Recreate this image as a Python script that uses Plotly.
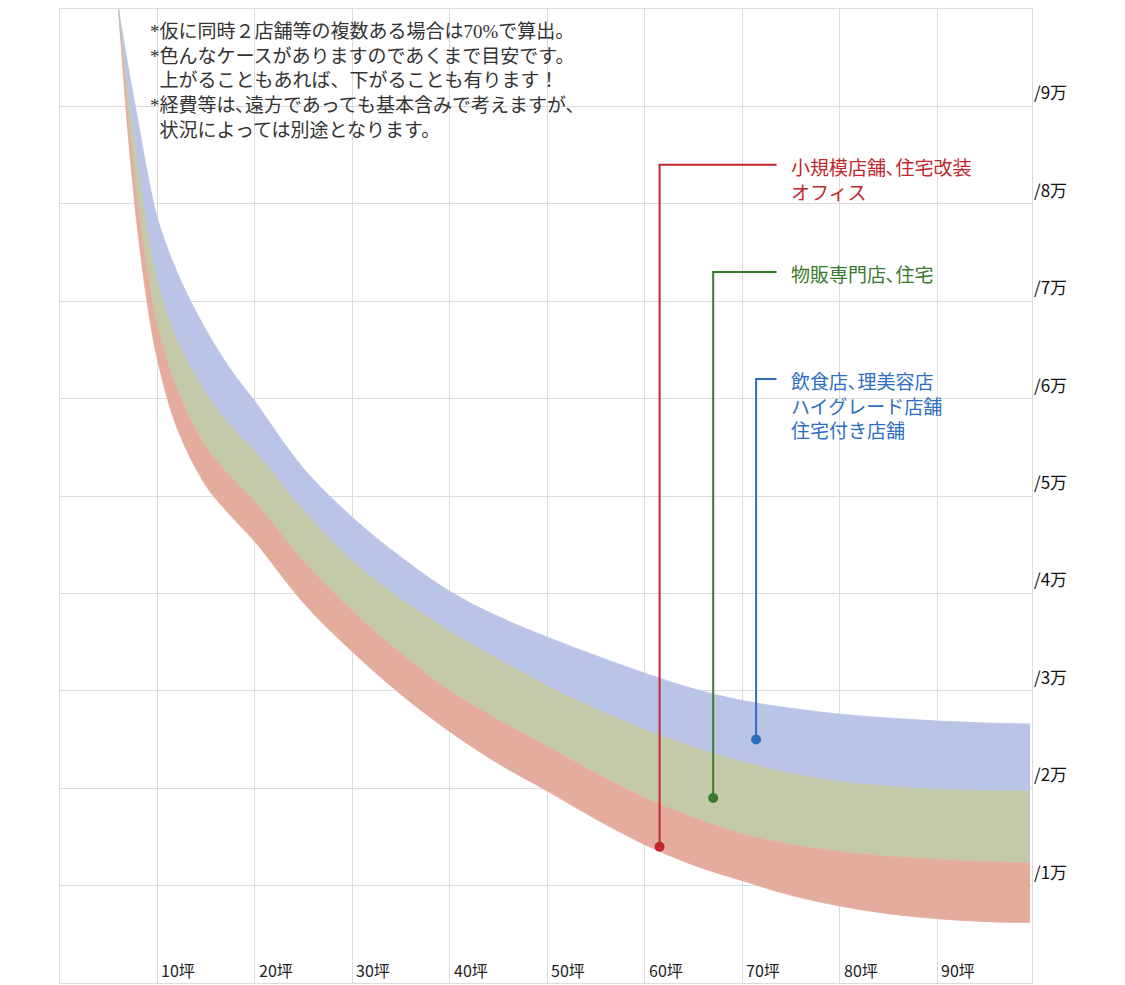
import plotly.graph_objects as go

# 坪 (x) and 万 (y)
tsubo = [6, 7, 8, 9, 10, 12, 15, 17.5, 20, 25, 30, 35, 40, 45, 50, 55, 60, 65, 70, 75, 80, 85, 90, 95, 99.5]
blue_top = [10.0, 9.4, 8.85, 8.3, 7.85, 7.3, 6.7, 6.3, 5.97, 5.28, 4.78, 4.37, 4.02, 3.76, 3.55,
            3.36, 3.18, 3.02, 2.9, 2.82, 2.76, 2.72, 2.69, 2.67, 2.66]
green_top = [10.0, 9.1, 8.4, 7.7, 7.2, 6.6, 6.05, 5.72, 5.46, 4.85, 4.33, 3.94, 3.61, 3.32, 3.05,
             2.81, 2.6, 2.42, 2.27, 2.15, 2.07, 2.02, 1.99, 1.975, 1.97]
red_top = [10.0, 8.9, 8.0, 7.3, 6.75, 6.1, 5.5, 5.2, 4.94, 4.33, 3.82, 3.38, 3.0, 2.7, 2.43,
           2.15, 1.9, 1.7, 1.53, 1.42, 1.35, 1.3, 1.27, 1.245, 1.23]
red_bottom = [10.0, 8.7, 7.7, 6.95, 6.4, 5.7, 5.1, 4.8, 4.53, 3.9, 3.4, 2.96, 2.58, 2.25, 1.97,
              1.68, 1.42, 1.21, 1.05, 0.9, 0.79, 0.71, 0.66, 0.63, 0.62]

x_ticks = [10, 20, 30, 40, 50, 60, 70, 80, 90]
y_ticks = [1, 2, 3, 4, 5, 6, 7, 8, 9]

notes = ["*仮に同時２店舗等の複数ある場合は70%で算出。",
         "*色んなケースがありますのであくまで目安です。",
         "  上がることもあれば、下がることも有ります！",
         "*経費等は､遠方であっても基本含みで考えますが、",
         "  状況によっては別途となります。"]

# (dot x, dot y, elbow y, text, colour)
callouts = [
    (61.5, 1.4, 8.4, "小規模店舗､住宅改装<br>オフィス", "#c0282d"),
    (67.0, 1.9, 7.3, "物販専門店､住宅", "#3a7a2e"),
    (71.4, 2.5, 6.2, "飲食店､理美容店<br>ハイグレード店舗<br>住宅付き店舗", "#2e6ec0"),
]

fig = go.Figure()
bands = [(red_bottom, None, "#e4ac9c"), (red_top, "tonexty", "#e4ac9c"),
         (green_top, "tonexty", "#c3c9a9"), (blue_top, "tonexty", "#bac4e6")]
for ys, fill, col in bands:
    fig.add_trace(go.Scatter(x=tsubo, y=ys, mode="lines",
                             line=dict(color=col, width=0.8, shape="spline", smoothing=1.0),
                             fill=fill, fillcolor=col, hoverinfo="skip", showlegend=False))

for dx, dy, ey, txt, col in callouts:
    fig.add_trace(go.Scatter(x=[dx, dx, 73.5], y=[dy, ey, ey], mode="lines",
                             line=dict(color=col, width=2), showlegend=False))
    fig.add_trace(go.Scatter(x=[dx], y=[dy], mode="markers", marker=dict(color=col, size=10),
                             showlegend=False))
    fig.add_annotation(x=74.8, y=ey + 0.14, text=txt, showarrow=False, xanchor="left", yanchor="top",
                       align="left", font=dict(size=19, color=col))

for t in x_ticks:
    fig.add_annotation(x=t + 0.2, y=0, yanchor="bottom", xanchor="left", yshift=-1,
                       text=f"{t}坪", showarrow=False, font=dict(size=16, color="#222"))
for v in y_ticks:
    fig.add_annotation(x=1, xref="paper", y=v, xanchor="left", yanchor="bottom",
                       text=f"/{v}万", showarrow=False, font=dict(size=17, color="#111"))

fig.add_annotation(x=9.0, y=9.9, text="<br>".join(notes), showarrow=False, xanchor="left",
                   yanchor="top", align="left",
                   font=dict(size=19, color="#333", family="Liberation Serif, Noto Sans CJK JP"))

fig.update_layout(
    width=1125, height=985, plot_bgcolor="white", paper_bgcolor="white",
    margin=dict(l=52, r=101, t=1, b=10),
    font=dict(family="Noto Sans CJK JP"),
    xaxis=dict(range=[0, 99.7], tickvals=list(range(0, 100, 10)), showticklabels=False,
               gridcolor="#dcdcdc", zeroline=False, showline=True, linecolor="#dcdcdc", mirror=True),
    yaxis=dict(range=[0, 10], tickvals=list(range(0, 11)), showticklabels=False,
               gridcolor="#dcdcdc", zeroline=False, showline=True, linecolor="#dcdcdc", mirror=True),
)
fig.write_html("out.html")
